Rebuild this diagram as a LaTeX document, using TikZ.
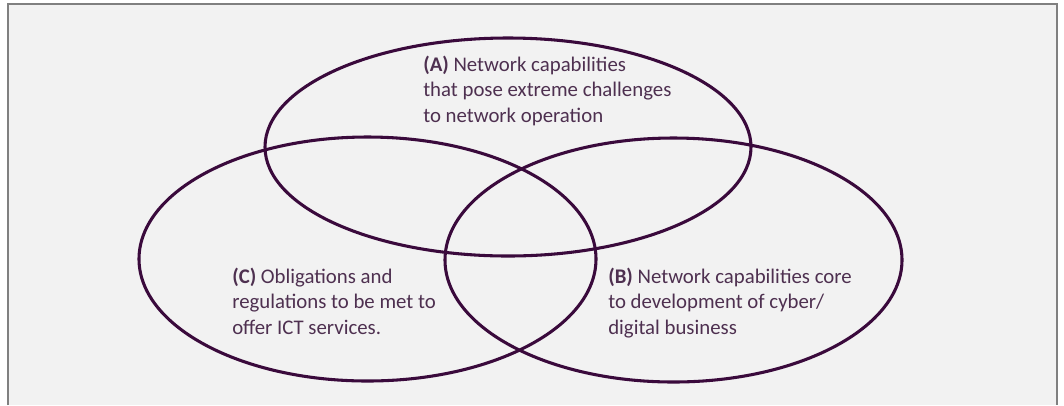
\documentclass[tikz,border=0pt]{standalone}
\usepackage{fontspec}
\setmainfont{Carlito}
\definecolor{venn}{RGB}{58,10,60}
\definecolor{venntext}{RGB}{78,48,80}
\definecolor{panel}{RGB}{242,242,242}
\definecolor{frame}{RGB}{128,128,128}
\begin{document}
\begin{tikzpicture}[x=0.75pt,y=-0.75pt,
	set/.style={draw=venn, line width=2.3pt},
	label/.style={anchor=base west, inner sep=0pt, align=left, text=venntext,
		font=\fontsize{15.6}{18.9}\selectfont}]
		\useasboundingbox (0,0) rectangle (1064,405);
		%panel
		\fill[white] (0,0) rectangle (1064,405);
		\fill[panel] (8,4) rectangle (1057,405);
		\draw[frame, line width=2pt] (8,405) -- (8,4) -- (1057,4) -- (1057,405);
		
		%the three sets
		\draw[set] (508,147) ellipse [x radius=243, y radius=109];
		\draw[set] (367.5,259) ellipse [x radius=228.5, y radius=122];
		\draw[set] (673.5,260) ellipse [x radius=228.5, y radius=122];
		
		%labels, placed at the baseline of their last line
		\node[label] (setA) at (423,122){\textbf{(A)} Network capabilities\\that pose extreme challenges\\to network operation};
		\node[label] (setB) at (608,334){\textbf{(B)} Network capabilities core\\to development of cyber/\\digital business};
		\node[label] (setC) at (232,334){\textbf{(C)} Obligations and\\regulations to be met to\\offer ICT services.};
		\end{tikzpicture}
\end{document}
